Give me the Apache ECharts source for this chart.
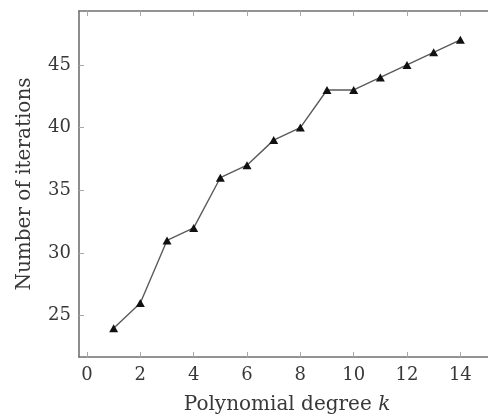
<!DOCTYPE html>
<html>
<head>
<meta charset="utf-8">
<style>
  html, body { margin: 0; padding: 0; background: #fff; }
  #chart { width: 488px; height: 419px; }
</style>
<script src="https://cdn.jsdelivr.net/npm/echarts@6/dist/echarts.min.js"></script>
</head>
<body>
<div id="chart"></div>
<script>
// Polynomial degree k against number of iterations
const degrees = [1, 2, 3, 4, 5, 6, 7, 8, 9, 10, 11, 12, 13, 14];
const iterations = [24, 26, 31, 32, 36, 37, 39, 40, 43, 43, 44, 45, 46, 47];
const xTicks = [0, 2, 4, 6, 8, 10, 12, 14];
const yTicks = [25, 30, 35, 40, 45];

const serif = '"DejaVu Serif", "Liberation Serif", serif';
const axisGray = '#707070';
const tickGray = '#a8a8a8';
const textColor = '#383838';

const xMin = -0.3, xMax = 15.3;
const yMin = 21.7, yMax = 49.3;

function xAxisDef(pos, showLabels) {
  return {
    type: 'value', position: pos, min: xMin, max: xMax,
    interval: 1,
    axisLine: { show: true, onZero: false, lineStyle: { color: axisGray, width: 1.6 } },
    axisTick: {
      show: true, inside: true, length: 5,
      lineStyle: { color: tickGray, width: 1 },
      customValues: xTicks
    },
    axisLabel: {
      show: showLabels, margin: 9, color: textColor,
      fontFamily: serif, fontSize: 18,
      customValues: xTicks
    },
    splitLine: { show: false }
  };
}

function yAxisDef(pos, showLabels) {
  return {
    type: 'value', position: pos, min: yMin, max: yMax,
    axisLine: { show: true, onZero: false, lineStyle: { color: axisGray, width: 1.6 } },
    axisTick: {
      show: true, inside: true, length: 5,
      lineStyle: { color: tickGray, width: 1 },
      customValues: yTicks
    },
    axisLabel: {
      show: showLabels, margin: 8, color: textColor,
      fontFamily: serif, fontSize: 18,
      customValues: yTicks
    },
    splitLine: { show: false }
  };
}

const bottomX = xAxisDef('bottom', true);
bottomX.name = '{t|Polynomial degree }{k|k}';
bottomX.nameLocation = 'middle';
bottomX.nameGap = 38;
bottomX.nameTextStyle = {
  rich: {
    t: { fontFamily: serif, fontSize: 20, color: textColor },
    k: { fontFamily: serif, fontSize: 20, color: textColor, fontStyle: 'italic' }
  }
};

const leftY = yAxisDef('left', true);
leftY.name = 'Number of iterations';
leftY.nameLocation = 'middle';
leftY.nameGap = 44;
leftY.nameTextStyle = { fontFamily: serif, fontSize: 20, color: textColor };

const chart = echarts.init(document.getElementById('chart'), null, { renderer: 'canvas' });
chart.setOption({
  animation: false,
  backgroundColor: '#ffffff',
  // the frame runs a few pixels past the right edge of the canvas
  grid: {
    left: 79, top: 11, width: 416, height: 346,
    containLabel: false, outerBoundsMode: 'none'
  },
  xAxis: [bottomX, xAxisDef('top', false)],
  yAxis: [leftY, yAxisDef('right', false)],
  series: [{
    type: 'line',
    xAxisIndex: 0, yAxisIndex: 0,
    data: degrees.map((d, i) => [d, iterations[i]]),
    lineStyle: { color: '#5a5a5a', width: 1.4 },
    symbol: 'triangle',
    symbolSize: [9, 8],
    itemStyle: { color: '#111111', borderWidth: 0 }
  }]
});
</script>
</body>
</html>
